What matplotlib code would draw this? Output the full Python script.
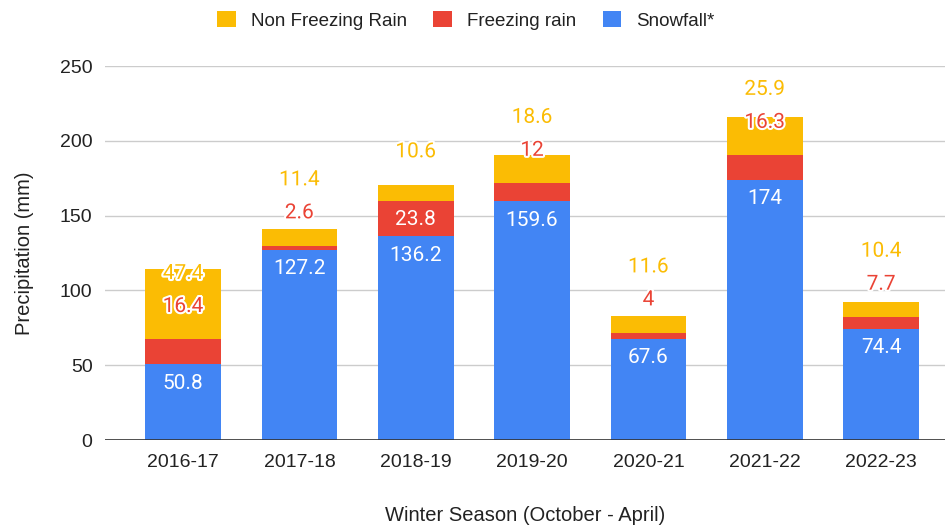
import matplotlib.pyplot as plt
import matplotlib.patheffects as pe
import numpy as np

seasons = ['2016-17', '2017-18', '2018-19', '2019-20', '2020-21', '2021-22', '2022-23']
snowfall = [50.8, 127.2, 136.2, 159.6, 67.6, 174, 74.4]
freezing = [16.4, 2.6, 23.8, 12, 4, 16.3, 7.7]
non_freezing = [47.4, 11.4, 10.6, 18.6, 11.6, 25.9, 10.4]

blue = '#4285F4'
red = '#EA4335'
yellow = '#FBBC04'

fig = plt.figure(figsize=(9.47, 5.29), dpi=100)
ax = fig.add_axes([0.111, 0.1682, 0.887, 0.707])

x = np.arange(len(seasons))
w = 0.65
snow = np.array(snowfall)
frz = np.array(freezing)
nfr = np.array(non_freezing)

ax.bar(x, snow, w, color=blue, label='Snowfall*', zorder=2)
ax.bar(x, frz, w, bottom=snow, color=red, label='Freezing rain', zorder=2)
ax.bar(x, nfr, w, bottom=snow + frz, color=yellow, label='Non Freezing Rain', zorder=2)

ax.set_ylim(0, 250)
ax.set_xlim(-0.67, 6.55)
ax.set_yticks([0, 50, 100, 150, 200, 250])
ax.grid(axis='y', color='#cccccc', lw=1, zorder=0)
ax.axhline(0, color='#333333', lw=1.2, zorder=3)
for s in ax.spines.values():
    s.set_visible(False)
ax.tick_params(length=0, labelsize=14, labelcolor='#222222', pad=9)
ax.tick_params(axis='x', pad=10)
ax.set_xticks(x)
ax.set_xticklabels(seasons, fontfamily='Liberation Sans')
for t in ax.get_yticklabels():
    t.set_fontfamily('Liberation Sans')
ax.set_ylabel('Precipitation (mm)', fontsize=14.5, fontfamily='Liberation Sans', color='#222222', labelpad=19)
ax.set_xlabel('Winter Season (October - April)', fontsize=14.5, fontfamily='Liberation Sans', color='#222222', labelpad=25)

# data labels, placed like the sheets chart: inside if the segment is tall, else above
px2pt = 72 / 100
halo = [pe.withStroke(linewidth=3, foreground='white')]
lab_font = dict(fontsize=15, fontfamily='Roboto', ha='center', va='center')
for i in range(len(seasons)):
    # snowfall, inside
    ax.annotate(f'{snowfall[i]:g}', (x[i], snow[i]), xytext=(0, -19 * px2pt),
                textcoords='offset points', color='white', zorder=5, **lab_font)
    # freezing rain
    top_r = snow[i] + frz[i]
    if freezing[i] > 20:
        ax.annotate(f'{freezing[i]:g}', (x[i], top_r), xytext=(0, -19 * px2pt),
                    textcoords='offset points', color='white', zorder=5, **lab_font)
        red_off = None
    else:
        red_off = 33
        ax.annotate(f'{freezing[i]:g}', (x[i], top_r), xytext=(0, red_off * px2pt),
                    textcoords='offset points', color=red, path_effects=halo, zorder=6, **lab_font)
    # non freezing rain
    top_y = top_r + nfr[i]
    if red_off is None:
        ax.annotate(f'{non_freezing[i]:g}', (x[i], top_y), xytext=(0, 33 * px2pt),
                    textcoords='offset points', color=yellow, path_effects=halo, zorder=6, **lab_font)
    else:
        ax.annotate(f'{non_freezing[i]:g}', (x[i], top_r), xytext=(0, (red_off + 33) * px2pt),
                    textcoords='offset points', color=yellow, path_effects=halo, zorder=6, **lab_font)

h, l = ax.get_legend_handles_labels()
fig.legend(h[::-1], l[::-1], loc='center', bbox_to_anchor=(0.492, 0.962), ncol=3, frameon=False,
           prop={'family': 'Liberation Sans', 'size': 13.5}, handlelength=1.0, handleheight=1.0,
           columnspacing=1.4, handletextpad=0.8, labelcolor='#222222')

fig.savefig('out.png', dpi=100)
